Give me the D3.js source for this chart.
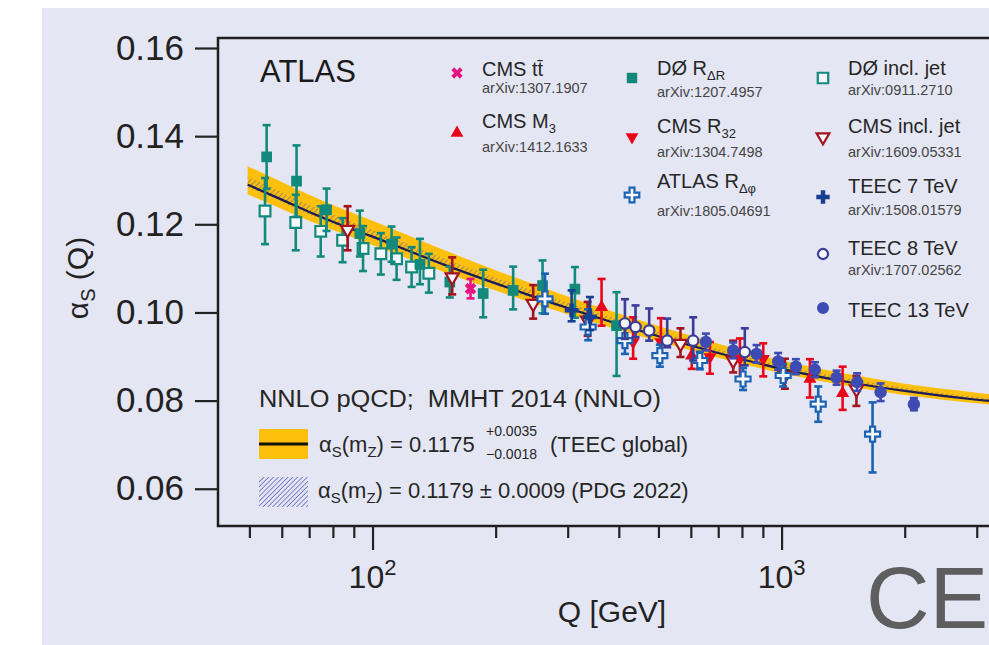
<!DOCTYPE html>
<html><head><meta charset="utf-8">
<script src="https://cdn.jsdelivr.net/npm/d3@7"></script>
<style>
html,body{margin:0;padding:0;background:#fff;}
svg{display:block;font-family:"Liberation Sans",Arial,sans-serif;}
</style></head><body>
<svg id="c" width="989" height="645"></svg>
<script>
// ---------------- DATA ----------------
// band: Q [GeV] and alpha_s values
const bandQ      = [49.5, 60, 70, 80, 100, 150, 200, 300, 500, 700, 1000, 1500, 2000, 3000, 3700];
const teecCentral= [0.1290,0.1256,0.1228,0.1206,0.1172,0.1108,0.1066,0.1010,0.0946,0.0908,0.0872,0.0840,0.0822,0.0802,0.0794];
const teecUp     = [0.1332,0.1296,0.1267,0.1244,0.1208,0.1141,0.1096,0.1036,0.0969,0.0929,0.0891,0.0858,0.0838,0.0818,0.0809];
const teecDown   = [0.1268,0.1235,0.1208,0.1187,0.1153,0.1091,0.1050,0.0996,0.0934,0.0897,0.0862,0.0831,0.0813,0.0794,0.0786];
const pdgUp      = [0.1308,0.1273,0.1244,0.1222,0.1187,0.1122,0.1079,0.1022,0.0957,0.0917,0.0880,0.0848,0.0829,0.0808,0.0800];
const pdgDown    = [0.1284,0.1251,0.1222,0.1200,0.1167,0.1104,0.1061,0.1006,0.0943,0.0905,0.0869,0.0837,0.0820,0.0800,0.0792];

// measurements: [Q, alpha_s, err up, err down]
const d0RdR = [[55.1,0.1353,0.0072,0.0072],[65.2,0.1298,0.0081,0.0081],[77.2,0.1233,0.0048,0.0048],
  [93.1,0.1179,0.0052,0.0052],[111.3,0.1155,0.0040,0.0040],[130.6,0.1109,0.0058,0.0045],
  [154.5,0.1069,0.0035,0.0035],[186.4,0.1043,0.0054,0.0054],[220.7,0.1050,0.0054,0.0043],
  [260.4,0.1061,0.0057,0.0063],[312.4,0.1053,0.0050,0.0065],[395,0.0970,0.0076,0.0114]];
const d0Incl = [[54.6,0.1230,0.0075,0.0075],[64.9,0.1204,0.0063,0.0063],[74.7,0.1184,0.0057,0.0057],
  [84.5,0.1164,0.0050,0.0050],[94.8,0.1145,0.0051,0.0051],[104.8,0.1133,0.0047,0.0047],
  [114.5,0.1122,0.0048,0.0048],[124.6,0.1103,0.0045,0.0045],[137.3,0.1089,0.0044,0.0044]];
const cmsTT = [[173.6,0.1054,0.0022,0.0022]];
const cmsM3 = [[363,0.1012,0.0064,0.0042],[603,0.0902,0.0034,0.0030],[1173,0.0849,0.0045,0.0042],[1410,0.0817,0.0060,0.0038]];
const cmsR32 = [[433.6,0.0933,0.0056,0.0038],[507,0.0933,0.0054,0.0036],[668,0.0899,0.0034,0.0038],[791,0.0896,0.0045,0.0045],[902,0.0895,0.0035,0.0040]];
const cmsIncl = [[86.9,0.1188,0.0053,0.0047],[156.6,0.1080,0.0045,0.0039],[247,0.1020,0.0042,0.0034],
  [335.6,0.0982,0.0042,0.0035],[566,0.0929,0.0035,0.0030],[761.6,0.0891,0.0045,0.0027],
  [1019,0.0857,0.0038,0.0030],[1524,0.0826,0.0030,0.0038]];
const atlasRdphi = [[264,0.1031,0.0057,0.0034],[336.6,0.0967,0.0040,0.0030],[414,0.0936,0.0030,0.0030],
  [504,0.0902,0.0025,0.0025],[631,0.0891,0.0020,0.0020],[805,0.0849,0.0025,0.0025],
  [1009,0.0857,0.0025,0.0025],[1229,0.0792,0.0040,0.0040],[1669,0.0724,0.0072,0.0087]];
const teec7 = [[306.7,0.1005,0.0045,0.0025],[340,0.0990,0.0045,0.0030]];
const teec8 = [[414,0.0975,0.0055,0.0035],[439.5,0.0967,0.0049,0.0023],[474.6,0.0959,0.0050,0.0023],
  [525.3,0.0936,0.0050,0.0015],[608,0.0936,0.0053,0.0045],[813,0.0910,0.0054,0.0030]];
const teec13 = [[653,0.0933,0.0019,0.0019],[761.6,0.0914,0.0018,0.0018],[868.7,0.0906,0.0020,0.0020],
  [981,0.0889,0.0019,0.0019],[1084,0.0877,0.0017,0.0017],[1206,0.0870,0.0017,0.0017],
  [1363,0.0852,0.0016,0.0016],[1530,0.0842,0.0020,0.0020],[1746,0.0819,0.0020,0.0020],[2106,0.0792,0.0014,0.0014]];

// axis ticks
const yTicks = [0.06,0.08,0.10,0.12,0.14,0.16];
const xMajor = [100,1000];
const xMajorExp = ["2","3"];
const xMinor = [50,60,70,80,90,200,300,400,500,600,700,800,900,2000,3000];

// legend texts
const legendNames = ["CMS t","CMS M","D\u00D8 R","CMS R","ATLAS R","D\u00D8 incl. jet","CMS incl. jet","TEEC 7 TeV","TEEC 8 TeV","TEEC 13 TeV"];
const legendSubs  = ["","3","\u0394R","32","\u0394\u03C6","","","","",""];
const legendArxiv = ["arXiv:1307.1907","arXiv:1412.1633","arXiv:1207.4957","arXiv:1304.7498","arXiv:1805.04691",
  "arXiv:0911.2710","arXiv:1609.05331","arXiv:1508.01579","arXiv:1707.02562",""];

// ---------------- DRAW ----------------
const W=989,H=645;
const svg=d3.select('#c');
const LAV='#e5e6f4';
svg.append('rect').attr('x',42).attr('y',8).attr('width',W-42).attr('height',H-8).attr('fill',LAV);

const PL=218, PR=1014, PT=38, PB=526;
const x=d3.scaleLog().domain([41.9,3700]).range([PL,PR]);
const y=d3.scaleLinear().domain([0.05155,0.16227]).range([PB,PT]);

const defs=svg.append('defs');
defs.append('clipPath').attr('id','clip').append('rect').attr('x',PL).attr('y',PT).attr('width',PR-PL).attr('height',PB-PT);
const pat=defs.append('pattern').attr('id','hatch').attr('patternUnits','userSpaceOnUse')
  .attr('width',3.4).attr('height',3.4).attr('patternTransform','rotate(45)');
pat.append('line').attr('x1',0).attr('y1',0).attr('x2',0).attr('y2',3.4).attr('stroke','#5d62c2').attr('stroke-width',1.5);
const pat2=defs.append('pattern').attr('id','hatch2').attr('patternUnits','userSpaceOnUse')
  .attr('width',4).attr('height',4).attr('patternTransform','rotate(45)');
pat2.append('line').attr('x1',0).attr('y1',0).attr('x2',0).attr('y2',4).attr('stroke','#6a6590').attr('stroke-width',1.5);

const plot=svg.append('g').attr('clip-path','url(#clip)');

const band=bandQ.map((q,i)=>({q,c:teecCentral[i],hi:teecUp[i],lo:teecDown[i],phi:pdgUp[i],plo:pdgDown[i]}));
const cur=d3.curveMonotoneX;
plot.append('path').datum(band).attr('fill','#fcbf0c')
  .attr('d',d3.area().x(d=>x(d.q)).y0(d=>y(d.lo)).y1(d=>y(d.hi)).curve(cur));
plot.append('path').datum(band).attr('fill','url(#hatch2)').attr('opacity',0.85)
  .attr('d',d3.area().x(d=>x(d.q)).y0(d=>y(d.plo)).y1(d=>y(d.phi)).curve(cur));
plot.append('path').datum(band).attr('fill','none').attr('stroke','#1c1c55').attr('stroke-width',2.2)
  .attr('d',d3.line().x(d=>x(d.q)).y(d=>y(d.c)).curve(cur));

// marker helper
function marker(g,type,cx,cy,color,scale){
  scale=scale||1;
  const open=type.endsWith('Open');
  const base=type.replace('Open','');
  let sym,size,rot=0;
  if(base==='square'){sym=d3.symbolSquare;size=115;}
  else if(base==='triUp'){sym=d3.symbolTriangle;size=75;}
  else if(base==='triDown'){sym=d3.symbolTriangle;size=75;rot=180;}
  else if(base==='cross'){sym=d3.symbolCross;size=open?125:105;}
  else if(base==='circle'){sym=d3.symbolCircle;size=open?85:120;}
  else if(base==='x'){sym=d3.symbolCross;size=85;rot=45;}
  g.append('path').attr('d',d3.symbol().type(sym).size(size*scale)())
    .attr('transform',`translate(${cx},${cy}) rotate(${rot})`)
    .attr('fill',open?'#f6f7fc':color).attr('stroke',open?color:'none').attr('stroke-width',open?2.2:0);
}

const seriesList=[
  {data:d0Incl,type:'squareOpen',color:'#13897b'},
  {data:d0RdR,type:'square',color:'#13897b'},
  {data:cmsIncl,type:'triDownOpen',color:'#a3141f'},
  {data:cmsTT,type:'x',color:'#e6157f'},
  {data:cmsM3,type:'triUp',color:'#e8061a'},
  {data:cmsR32,type:'triDown',color:'#e8061a'},
  {data:atlasRdphi,type:'crossOpen',color:'#1a62b3'},
  {data:teec7,type:'cross',color:'#163f90'},
  {data:teec8,type:'circleOpen',color:'#3a3c98'},
  {data:teec13,type:'circle',color:'#3d4bb2'}
];
const dg=svg.append('g').attr('clip-path','url(#clip)');
seriesList.forEach(s=>{
  const g=dg.append('g');
  s.data.forEach(p=>{
    const cx=x(p[0]), cy=y(p[1]), yt=y(p[1]+p[2]), yb=y(p[1]-p[3]);
    g.append('line').attr('x1',cx).attr('x2',cx).attr('y1',yt).attr('y2',yb).attr('stroke',s.color).attr('stroke-width',2.6);
    [yt,yb].forEach(v=>g.append('line').attr('x1',cx-4).attr('x2',cx+4).attr('y1',v).attr('y2',v).attr('stroke',s.color).attr('stroke-width',2.6));
  });
  s.data.forEach(p=>marker(g,s.type,x(p[0]),y(p[1]),s.color));
});

// frame
svg.append('rect').attr('x',PL).attr('y',PT).attr('width',PR-PL).attr('height',PB-PT)
  .attr('fill','none').attr('stroke','#1e1e1e').attr('stroke-width',2.5);

// y axis
const ya=svg.append('g').attr('transform',`translate(${PL},0)`)
  .call(d3.axisLeft(y).tickValues(yTicks).tickSize(23).tickPadding(11).tickFormat(d3.format('.2f')));
ya.select('.domain').remove();
ya.selectAll('line').attr('stroke','#222').attr('stroke-width',2.2);
ya.selectAll('text').attr('font-size',35).attr('fill','#222').attr('font-family','"Liberation Sans",Arial,sans-serif');

// x axis
const xmin=svg.append('g').attr('transform',`translate(0,${PB})`)
  .call(d3.axisBottom(x).tickValues(xMinor).tickSize(12).tickFormat(''));
const xmaj=svg.append('g').attr('transform',`translate(0,${PB})`)
  .call(d3.axisBottom(x).tickValues(xMajor).tickSize(24).tickFormat(''));
[xmin,xmaj].forEach(a=>{a.select('.domain').remove();a.selectAll('line').attr('stroke','#222').attr('stroke-width',2.2);});
xMajor.forEach((v,i)=>{
  const t=svg.append('text').attr('x',x(v)).attr('y',588).attr('text-anchor','middle').attr('font-size',32).attr('fill','#222');
  t.append('tspan').text('10');
  t.append('tspan').attr('dy',-13).attr('font-size',22).text(xMajorExp[i]);
});
svg.append('text').attr('x',612).attr('y',622).attr('text-anchor','middle').attr('font-size',30).attr('fill','#222').text('Q [GeV]');

// y label
const yl=svg.append('text').attr('transform','translate(88,278) rotate(-90)').attr('text-anchor','middle').attr('font-size',30).attr('fill','#222');
yl.append('tspan').text('\u03B1');
yl.append('tspan').attr('dy',7).attr('font-size',20).text('S');
yl.append('tspan').attr('dy',-7).text(' (Q)');

// ATLAS
svg.append('text').attr('x',260).attr('y',82).attr('font-size',31).attr('fill','#1a1a1a').text('ATLAS');

// legend (layout: markerX, markerY, labelBaseline, arxivBaseline)
const legPos=[[457,73,76,93],[457,133,128,152],[632,78,75,97],[632,137,133,157],[632,195,188,216],
  [823,78,75,95],[823,137,133,157],[823,197,193,215],[823,254,255,275],[823,308,317,0]];
const legOrder=[3,4,1,5,6,0,2,7,8,9]; // index into seriesList for each legend entry
const lg=svg.append('g');
legendNames.forEach((nm,i)=>{
  const [mx,my,lb,ab]=legPos[i];
  const s=seriesList[legOrder[i]];
  marker(lg,s.type,mx,my,s.color,0.95);
  const t=lg.append('text').attr('x',mx+25).attr('y',lb).attr('font-size',20).attr('fill','#262626');
  if(i===0){t.append('tspan').text(nm); t.append('tspan').text('t\u0304');}
  else t.append('tspan').text(nm);
  if(legendSubs[i]) t.append('tspan').attr('dy',5).attr('font-size',13).text(legendSubs[i]);
  if(legendArxiv[i]) lg.append('text').attr('x',mx+25).attr('y',ab).attr('font-size',14.5).attr('fill','#454545').text(legendArxiv[i]);
});

// bottom legend
const bl=svg.append('g').attr('fill','#262626');
bl.append('text').attr('x',259).attr('y',407).attr('font-size',23).style('white-space','pre')
  .attr('textLength',402).attr('lengthAdjust','spacingAndGlyphs').text('NNLO pQCD;  MMHT 2014 (NNLO)');
bl.append('rect').attr('x',259).attr('y',429).attr('width',49).attr('height',30).attr('fill','#fcbf0c');
bl.append('line').attr('x1',259).attr('x2',308).attr('y1',444).attr('y2',444).attr('stroke','#111').attr('stroke-width',3);
function alphaMz(g,xx,yy){
  const t=g.append('text').attr('x',xx).attr('y',yy).attr('font-size',22);
  t.append('tspan').text('\u03B1');
  t.append('tspan').attr('dy',5).attr('font-size',15).text('S');
  t.append('tspan').attr('dy',-5).text('(m');
  t.append('tspan').attr('dy',5).attr('font-size',15).text('Z');
  t.append('tspan').attr('dy',-5).text(')');
  return t;
}
const t1=alphaMz(bl,319,452); t1.append('tspan').text(' = 0.1175');
bl.append('text').attr('x',486).attr('y',436).attr('font-size',14).text('+0.0035');
bl.append('text').attr('x',486).attr('y',459).attr('font-size',14).text('\u22120.0018');
bl.append('text').attr('x',550).attr('y',452).attr('font-size',22).text('(TEEC global)');
bl.append('rect').attr('x',259).attr('y',477).attr('width',49).attr('height',30).attr('fill','url(#hatch)');
const t2=alphaMz(bl,318,498); t2.append('tspan').text(' = 0.1179 \u00B1 0.0009 (PDG 2022)');

// watermark
svg.append('text').attr('x',866).attr('y',628).attr('font-size',88).attr('fill','#5e5e5e').text('CERN');
</script>
</body></html>
